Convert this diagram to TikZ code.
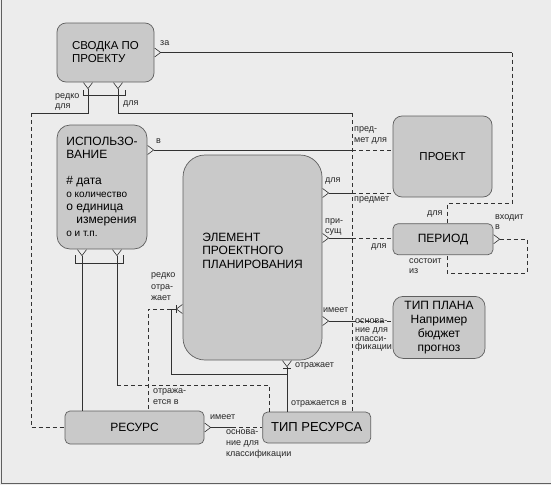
\documentclass[tikz,border=0pt]{standalone}
\usepackage{fontspec}
\setmainfont{Liberation Sans}
\usepackage{xcolor}
\usetikzlibrary{arrows.meta,positioning}
\definecolor{bggray}{RGB}{236,236,236}
\definecolor{boxgray}{RGB}{201,201,201}
\definecolor{linegray}{RGB}{50,50,50}
\definecolor{edgegray}{RGB}{95,95,95}

\begin{document}
\begin{tikzpicture}[
    x=1pt, y=-1pt,
    box/.style={draw=edgegray, fill=boxgray, rounded corners=9pt, line width=0.7pt, inner sep=0pt, align=left, font=\fontsize{12}{13}\selectfont},
    rel/.style={draw=linegray, line width=0.6pt},
    opt/.style={rel, dash pattern=on 4pt off 3pt},
    crowfoot/.style={{Straight Barb[reversed, length=6pt, width=9pt]}-},
    lbl/.style={inner sep=0pt, align=left, font=\fontsize{9}{10}\selectfont, text=black!85}
  ]
  \fill[bggray] (0,0) rectangle (551,485);
  \useasboundingbox (0,0) rectangle (551,485);
  \draw[edgegray, line width=1pt] (1,0) -- (1,483) -- (551,483);

  % entities
  \node[box, minimum width=97pt, minimum height=59pt, font=\fontsize{11.5}{13}\selectfont] (svodka) at (105.5,52.5) {СВОДКА ПО\\ПРОЕКТУ};
  \node[box, rounded corners=13pt, minimum width=90pt, minimum height=124pt] (ispolz) at (102,187)
    {ИСПОЛЬЗО-\\ВАНИЕ\\[13pt]\# дата\\{\fontsize{10}{13}\selectfont о количество}\\о единица\\\hspace{10pt}измерения\\{\fontsize{10}{13}\selectfont о и т.п.}};
  \node[box, rounded corners=22pt, minimum width=139pt, minimum height=205pt, font=\fontsize{12}{13.5}\selectfont] (element) at (252.5,257.5) {ЭЛЕМЕНТ\\ПРОЕКТНОГО\\ПЛАНИРОВАНИЯ\\\mbox{}};
  \node[box, minimum width=99pt, minimum height=81pt, font=\fontsize{11.5}{13}\selectfont] (proekt) at (442.5,156.5) {ПРОЕКТ};
  \node[box, rounded corners=5pt, minimum width=100pt, minimum height=31pt, below=26pt of proekt.south west, anchor=north west] (period) {ПЕРИОД};
  \node[box, rounded corners=10pt, minimum width=92pt, minimum height=62pt, align=center, font=\fontsize{12}{14}\selectfont, below=41pt of period.south west, anchor=north west] (tipplana) {ТИП ПЛАНА\\Например\\бюджет\\прогноз};
  \node[box, rounded corners=5pt, minimum width=139pt, minimum height=33pt] (resurs) at (134.5,427.5) {РЕСУРС};
  \node[box, rounded corners=5pt, minimum width=108pt, minimum height=31pt, font=\fontsize{13}{14}\selectfont, right=58pt of resurs] (tipres) {ТИП РЕСУРСА};

  % bends
  \coordinate (cR) at (512,203);
  \coordinate (cL) at (31,113);
  \coordinate (cM) at (352,113);
  \coordinate (cS) at (527,273);
  \coordinate (cU) at (269,385);
  \coordinate (cJ) at (171,309);
  \coordinate (cD) at (148,309);
  \coordinate (cB) at (287,374);

  % relationships
  \draw[rel, crowfoot] (svodka.east) -- (svodka.east -| cR);
  \draw[opt] (svodka.east -| cR) -- (cR) -| ([xshift=4pt]period.north);
  \draw[rel, crowfoot] ([xshift=-17.5pt]svodka.south) |- (cL);
  \draw[opt] (cL) |- (resurs.west);
  \draw[rel, crowfoot] ([xshift=12.5pt]svodka.south) |- (cM);
  \draw[opt] (cM) -- (cM |- tipres.north);
  \draw[rel, crowfoot] ([yshift=37pt]ispolz.east) -- ([yshift=37pt]ispolz.east -| cM);
  \draw[opt] ([yshift=37pt]ispolz.east -| cM) -- ([yshift=37pt]ispolz.east -| proekt.west);
  \draw[rel, crowfoot] ([yshift=64.5pt]element.east) -- ([yshift=64.5pt]element.east -| cM);
  \draw[opt] ([yshift=64.5pt]element.east -| cM) -- ([yshift=64.5pt]element.east -| proekt.west);
  \draw[rel, crowfoot] ([yshift=19.5pt]element.east) -- ([yshift=19.5pt]element.east -| cM);
  \draw[opt] ([yshift=19.5pt]element.east -| cM) -- ([yshift=19.5pt]element.east -| period.west);
  \draw[rel, crowfoot] ([yshift=-63.5pt]element.east) -- ([yshift=-63.5pt]element.east -| cM);
  \draw[opt] ([yshift=-63.5pt]element.east -| cM) -- ([yshift=-63.5pt]element.east -| tipplana.west);
  \draw[opt, crowfoot] (period.east) -| (cS) -| ([xshift=4pt]period.south);
  \draw[rel, crowfoot] ([xshift=-20pt]ispolz.south) -- ([xshift=-20pt]ispolz.south |- resurs.north);
  \draw[rel, crowfoot] ([xshift=15pt]ispolz.south) -- ([xshift=15pt]ispolz.south |- cU);
  \draw[opt] ([xshift=15pt]ispolz.south |- cU) -- (cU) -- (cU |- tipres.north);
  \draw[rel, crowfoot] ([yshift=-51.5pt]element.west) -- (cJ);
  \draw[opt] (cJ) -- (cD) -- (cD |- resurs.north);
  \draw[rel] (cJ) |- (cB);
  \draw[rel, crowfoot] ([xshift=34.5pt]element.south) -- ([xshift=34.5pt]element.south |- tipres.north);
  \draw[rel, crowfoot] (resurs.east) -- ([xshift=28pt]resurs.east);
  \draw[opt] ([xshift=28pt]resurs.east) -- (tipres.west);

  % identifier bars
  \draw[rel] ([shift={(-22.5,8)}]svodka.south) |- ++(42,5) -- ++(0,-5);
  \draw[rel] ([shift={(-27,6)}]ispolz.south) |- ++(48,8) -- ++(0,-8);
  \draw[rel] ([shift={(5,-4)}]cJ) -- ++(0,8);
  \draw[rel] ([shift={(-4,-6)}]cB) -- ++(8,0);

  % role names
  \node[lbl, anchor=west] (l-za) at (160,43) {за};
  \node[lbl, anchor=north west] (l-redko) at (55,93.5) {редко\\для};
  \node[lbl, anchor=west] (l-dlya1) at (123,104) {для};
  \node[lbl, anchor=west] (l-v) at (156,141) {в};
  \node[lbl, anchor=north west, font=\fontsize{9}{11}\selectfont] (l-predm) at (354,126.5) {пред-\\мет для};
  \node[lbl, anchor=west] (l-dlya2) at (325,181) {для};
  \node[lbl, anchor=west] (l-predmet) at (354,200) {предмет};
  \node[lbl, anchor=north west] (l-prisush) at (325,218.5) {при-\\сущ};
  \node[lbl, anchor=west] (l-dlya3) at (371,247) {для};
  \node[lbl, anchor=west] (l-dlya4) at (427,214) {для};
  \node[lbl, anchor=north west, font=\fontsize{9}{9.5}\selectfont] (l-vhodit) at (495,214.5) {входит\\в};
  \node[lbl, anchor=north west] (l-sostoit) at (409,258.5) {состоит\\из};
  \node[lbl, anchor=west] (l-imeet1) at (323,310) {имеет};
  \node[lbl, anchor=north west, font=\fontsize{9}{8.8}\selectfont] (l-osnova1) at (355,318.5) {основа-\\ние для\\класси-\\фикации};
  \node[lbl, anchor=north west, font=\fontsize{9}{11.5}\selectfont] (l-redko2) at (151,272.5) {редко\\отра-\\жает};
  \node[lbl, anchor=west] (l-otrazh) at (295,366) {отражает};
  \node[lbl, anchor=west] (l-otrv) at (291,404) {отражается в};
  \node[lbl, anchor=north west, font=\fontsize{9}{11}\selectfont] (l-otrv2) at (153,388.5) {отража-\\ется в};
  \node[lbl, anchor=west] (l-imeet2) at (210,417) {имеет};
  \node[lbl, anchor=north west, font=\fontsize{9}{11}\selectfont] (l-osnova2) at (226,429.5) {основа-\\ние для\\классификации};
\end{tikzpicture}
\end{document}
